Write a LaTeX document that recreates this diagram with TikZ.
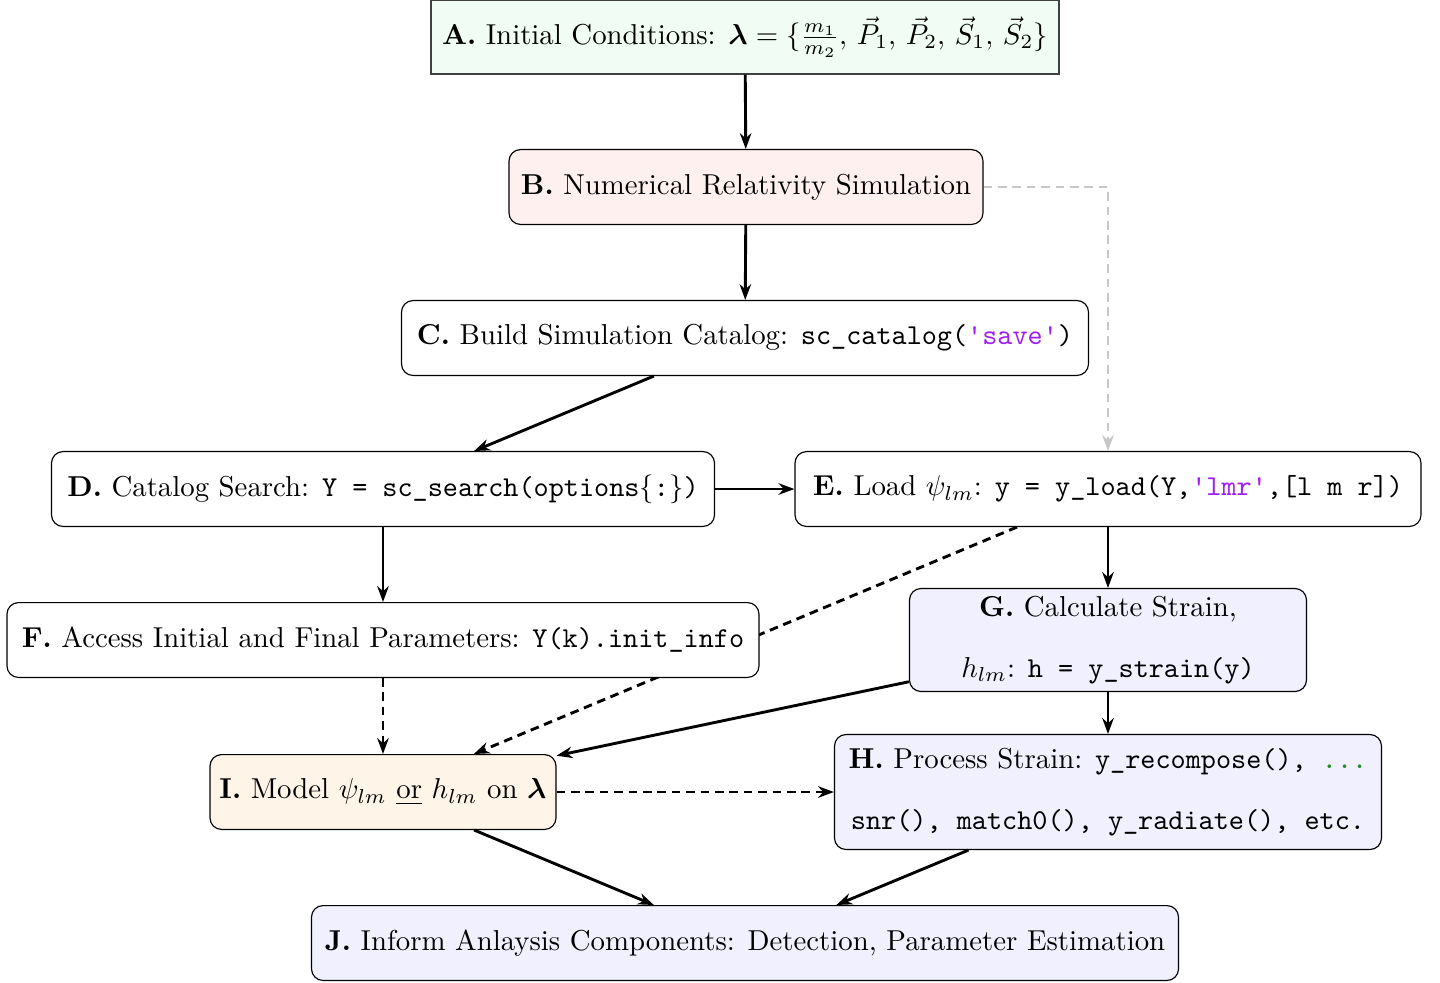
\documentclass[tikz,border=0pt]{standalone}
\usepackage{amsmath}
\usetikzlibrary{arrows.meta}
\pgfdeclarelayer{background}
\pgfsetlayers{background,main}

\definecolor{fillA}{RGB}{240,252,244}
\definecolor{fillB}{RGB}{255,240,240}
\definecolor{fillBlue}{RGB}{240,240,255}
\definecolor{fillI}{RGB}{255,244,232}
\definecolor{strpurple}{RGB}{160,32,240}
\definecolor{dotgreen}{RGB}{34,139,34}

\newcommand{\mstr}[1]{\textcolor{strpurple}{\textquotesingle#1\textquotesingle}}

\begin{document}
\begin{tikzpicture}[
  x=0.3472pt, y=-0.3472pt,
  box/.style={draw, rounded corners=4pt, fill=white, inner xsep=3pt, inner ysep=2pt,
              align=center, minimum height=26pt},
  arr/.style={-{Stealth[length=5.5pt,width=4pt]}, line width=1pt},
  dasharr/.style={arr, dash pattern=on 3pt off 2pt},
  grayarr/.style={arr, dash pattern=on 3pt off 2pt, black!22},
]
\useasboundingbox (0,0) rectangle (1440,982);

% process steps
\node[draw=black!75, fill=fillA, inner xsep=3pt, minimum width={628*0.3472pt}, minimum height={74*0.3472pt}]
  (A) at (745,37)
  {\textbf{A.} Initial Conditions: $\boldsymbol{\lambda}=\{\tfrac{m_1}{m_2},\,\vec{P}_1,\,\vec{P}_2,\,\vec{S}_1,\,\vec{S}_2\}$};
\node[box, fill=fillB, minimum width={474*0.3472pt}] (B) at (746,187)
  {\textbf{B.} Numerical Relativity Simulation};
\node[box, minimum width={687*0.3472pt}] (C) at (745,338)
  {\textbf{C.} Build Simulation Catalog: \texttt{sc\_catalog(\mstr{save})}};
\node[box, minimum width={663*0.3472pt}] (D) at (383,489)
  {\textbf{D.} Catalog Search: \texttt{Y = sc\_search(options$\{$:$\}$)}};
\node[box, minimum width={626*0.3472pt}] (E) at (1108,489)
  {\textbf{E.} Load $\psi_{lm}$: \texttt{y = y\_load(Y,\mstr{lmr},[l m r])}};
\node[box, minimum width={752*0.3472pt}] (F) at (383,640)
  {\textbf{F.} Access Initial and Final Parameters: \texttt{Y(k).init\_info}};
\node[box, fill=fillBlue, minimum width={397*0.3472pt}, minimum height={103*0.3472pt}] (G) at (1108,640)
  {\textbf{G.} Calculate Strain,\\[9pt] $h_{lm}$: \texttt{h = y\_strain(y)}};
\node[box, fill=fillBlue, minimum width={547*0.3472pt}, minimum height={115*0.3472pt}] (H) at (1108,792)
  {\textbf{H.} Process Strain: \texttt{y\_recompose(), \textcolor{dotgreen}{...}}\\[9pt]
   \texttt{snr(), match0(), y\_radiate(), etc.}};
\node[box, fill=fillI, minimum width={346*0.3472pt}] (I) at (383,792)
  {\textbf{I.} Model $\psi_{lm}$ \underline{or} $h_{lm}$ on $\boldsymbol{\lambda}$};
\node[box, fill=fillBlue, minimum width={867*0.3472pt}] (J) at (745,943)
  {\textbf{J.} Inform Anlaysis Components: Detection, Parameter Estimation};

% connectors
\draw[arr] (A) -- (B);
\draw[arr] (B) -- (C);
\draw[grayarr] (B.east) -| (E.north);
\draw[arr] (C) -- (D);
\draw[arr] (D) -- (E);
\draw[arr] (D) -- (F);
\draw[arr] (E) -- (G);
\begin{pgfonlayer}{background}
  \draw[dasharr] (E) -- (I);
\end{pgfonlayer}
\draw[dasharr] (F) -- (I);
\draw[arr] (G) -- (H);
\draw[arr] (G) -- (I);
\draw[dasharr] (I) -- (H);
\draw[arr] (I) -- (J);
\draw[arr] (H) -- (J);
\end{tikzpicture}
\end{document}
